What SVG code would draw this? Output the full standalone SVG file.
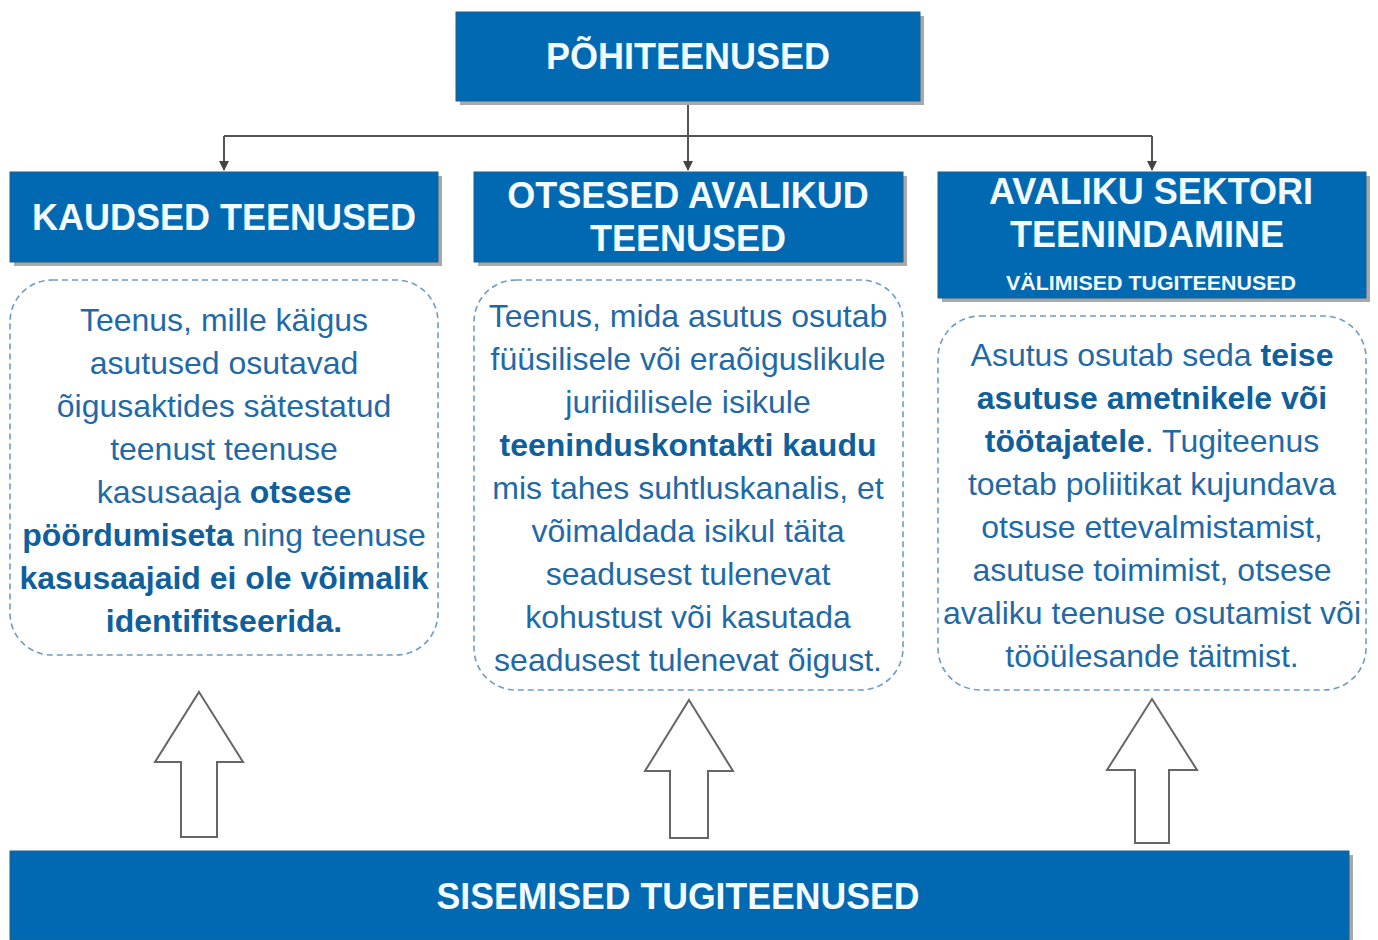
<svg xmlns="http://www.w3.org/2000/svg" width="1378" height="940" viewBox="0 0 1378 940">
<defs>
<marker id="ah" viewBox="0 0 10 10" refX="9" refY="5" markerWidth="10" markerHeight="10" markerUnits="userSpaceOnUse" orient="auto">
<path d="M0,0 L10,5 L0,10 z" fill="#444"/>
</marker>
<style>
.box{fill:#0069B2;stroke:#1d5f90;stroke-width:1}
.shd{fill:#a9a9a9}
.hd{font-family:"Liberation Sans",Arial,sans-serif;font-weight:bold;fill:#f4fbff;text-anchor:middle}
.dash{fill:none;stroke:#6d9cc6;stroke-width:1.6;stroke-dasharray:6 4}
.tx{font-family:"Liberation Sans",Arial,sans-serif;font-size:32px;fill:#1f6aa6;text-anchor:middle}
.b{font-weight:bold;fill:#0f5f9d}
.con{fill:none;stroke:#555;stroke-width:2}
.up{fill:#fff;stroke:#666;stroke-width:2}
</style>
</defs>
<rect width="1378" height="940" fill="#fff"/>

<g id="connectors">
<line class="con" x1="688" y1="101" x2="688" y2="170" marker-end="url(#ah)"/>
<line class="con" x1="224" y1="136" x2="1152" y2="136"/>
<line class="con" x1="224" y1="136" x2="224" y2="170" marker-end="url(#ah)"/>
<line class="con" x1="1152" y1="136" x2="1152" y2="170" marker-end="url(#ah)"/>
<path class="up" d="M199,692 L243,762 L217,762 L217,837 L181,837 L181,762 L155,762 Z"/>
<path class="up" d="M689,700 L733,771 L708,771 L708,838 L670,838 L670,771 L645,771 Z"/>
<path class="up" d="M1152,699 L1197,770 L1169,770 L1169,843 L1135,843 L1135,770 L1107,770 Z"/>
</g>

<g id="pohiteenused">
<rect class="shd" x="460" y="16" width="464" height="89"/>
<rect class="box" x="456" y="12" width="464" height="89"/>
<text class="hd" x="688" y="69" font-size="36">PÕHITEENUSED</text>
</g>

<g id="kaudsed">
<rect class="shd" x="14" y="176" width="428" height="90"/>
<rect class="box" x="10" y="172" width="428" height="90"/>
<text class="hd" x="224" y="230" font-size="36">KAUDSED TEENUSED</text>
</g>

<g id="otsesed">
<rect class="shd" x="478" y="176" width="429" height="90"/>
<rect class="box" x="474" y="172" width="429" height="90"/>
<text class="hd" x="688" y="208" font-size="36">OTSESED AVALIKUD</text>
<text class="hd" x="688" y="251" font-size="36">TEENUSED</text>
</g>

<g id="avaliku">
<rect class="shd" x="942" y="176" width="428" height="126"/>
<rect class="box" x="938" y="172" width="428" height="126"/>
<text class="hd" x="1151" y="204" font-size="36">AVALIKU SEKTORI</text>
<text class="hd" x="1147" y="247" font-size="36">TEENINDAMINE</text>
<text class="hd" x="1151" y="290" font-size="20" textLength="290" lengthAdjust="spacingAndGlyphs">VÄLIMISED TUGITEENUSED</text>
</g>

<g id="kaudsed-desc">
<rect class="dash" x="10" y="280" width="428" height="375" rx="42"/>
<text class="tx" x="224" y="331">Teenus, mille käigus</text>
<text class="tx" x="224" y="374">asutused osutavad</text>
<text class="tx" x="224" y="417">õigusaktides sätestatud</text>
<text class="tx" x="224" y="460">teenust teenuse</text>
<text class="tx" x="224" y="503">kasusaaja <tspan class="b">otsese</tspan></text>
<text class="tx" x="224" y="546"><tspan class="b">pöördumiseta</tspan> ning teenuse</text>
<text class="tx b" x="224" y="589">kasusaajaid ei ole võimalik</text>
<text class="tx b" x="224" y="632">identifitseerida.</text>
</g>

<g id="otsesed-desc">
<rect class="dash" x="474" y="280" width="429" height="410" rx="42"/>
<text class="tx" x="688" y="327">Teenus, mida asutus osutab</text>
<text class="tx" x="688" y="370">füüsilisele või eraõiguslikule</text>
<text class="tx" x="688" y="413">juriidilisele isikule</text>
<text class="tx b" x="688" y="456">teeninduskontakti kaudu</text>
<text class="tx" x="688" y="499">mis tahes suhtluskanalis, et</text>
<text class="tx" x="688" y="542">võimaldada isikul täita</text>
<text class="tx" x="688" y="585">seadusest tulenevat</text>
<text class="tx" x="688" y="628">kohustust või kasutada</text>
<text class="tx" x="688" y="671">seadusest tulenevat õigust.</text>
</g>

<g id="avaliku-desc">
<rect class="dash" x="938" y="316" width="428" height="374" rx="42"/>
<text class="tx" x="1152" y="366">Asutus osutab seda <tspan class="b">teise</tspan></text>
<text class="tx b" x="1152" y="409">asutuse ametnikele või</text>
<text class="tx" x="1152" y="452"><tspan class="b">töötajatele</tspan>. Tugiteenus</text>
<text class="tx" x="1152" y="495">toetab poliitikat kujundava</text>
<text class="tx" x="1152" y="538">otsuse ettevalmistamist,</text>
<text class="tx" x="1152" y="581">asutuse toimimist, otsese</text>
<text class="tx" x="1152" y="624">avaliku teenuse osutamist või</text>
<text class="tx" x="1152" y="667">tööülesande täitmist.</text>
</g>

<g id="sisemised">
<rect class="shd" x="14" y="855" width="1339" height="89"/>
<rect class="box" x="10" y="851" width="1339" height="89"/>
<text class="hd" x="678" y="909" font-size="36" textLength="483" lengthAdjust="spacingAndGlyphs">SISEMISED TUGITEENUSED</text>
</g>
</svg>
